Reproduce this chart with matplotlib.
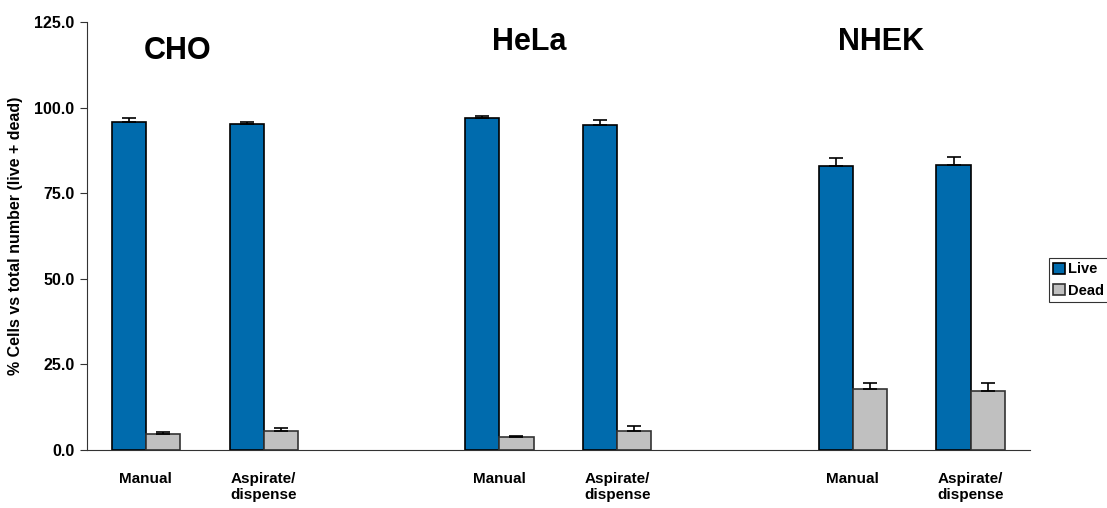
import matplotlib.pyplot as plt
import numpy as np

plt.rcParams['font.family'] = ['Liberation Sans', 'DejaVu Sans']
plt.rcParams['font.weight'] = 'bold'

cells = ["CHO", "HeLa", "NHEK"]
methods = ["Manual", "Aspirate/\ndispense"]
live = [95.8, 95.1, 96.9, 94.8, 82.9, 83.3]
live_err = [1.0, 0.7, 0.6, 1.5, 2.3, 2.3]
dead = [4.7, 5.5, 3.6, 5.5, 17.6, 17.2]
dead_err = [0.5, 0.8, 0.4, 1.5, 1.9, 2.2]

# 8 slots with empty gaps between the cell lines
pos = np.array([0, 1, 3, 4, 6, 7])
w = 0.29

fig = plt.figure(figsize=(11.07, 5.08), dpi=100)
ax = fig.add_axes([0.0786, 0.1148, 0.8514, 0.8419])

ekw = dict(elinewidth=1.2, capthick=1.2, ecolor='black')
ax.bar(pos - w, live, w, align='edge', color='#006BAD', edgecolor='black', linewidth=1.2,
       yerr=[np.zeros(6), live_err], capsize=5, error_kw=ekw, label='Live')
ax.bar(pos, dead, w, align='edge', color='#C0C0C0', edgecolor='#333333', linewidth=1.2,
       yerr=[np.zeros(6), dead_err], capsize=5, error_kw=ekw, label='Dead')

ax.set_xlim(-0.5, 7.5)
ax.set_ylim(0, 125)
ax.set_yticks(np.arange(0, 126, 25))
ax.set_yticklabels([f"{v:.1f}" for v in np.arange(0, 126, 25)], fontsize=11.5, fontweight='bold')
ax.set_xticks(pos)
ax.set_xticklabels(methods * 3, fontsize=11, fontweight='bold', multialignment='center')
ax.tick_params(axis='x', length=0, pad=16)
ax.tick_params(axis='y', length=5, color='#333333', pad=4)
for s in ['top', 'right']:
    ax.spines[s].set_visible(False)
for s in ['left', 'bottom']:
    ax.spines[s].set_color('#333333')

ax.set_ylabel("% Cells vs total number (live + dead)", fontsize=11.5, fontweight='bold', labelpad=8)

title_x = [0.27, 3.25, 6.24]
title_y = [116.5, 119.1, 119.1]
for name, tx, ty in zip(cells, title_x, title_y):
    ax.text(tx, ty, name, fontsize=22, fontweight='bold', ha='center', va='center')

leg = fig.legend(loc='upper left', bbox_to_anchor=(1049 / 1107, 1 - 258 / 508),
                 fontsize=10.5, frameon=True, fancybox=False, edgecolor='black',
                 handlelength=0.8, handleheight=0.8, handletextpad=0.2,
                 borderpad=0.3, labelspacing=0.5, borderaxespad=0)
leg.get_frame().set_linewidth(0.8)

fig.savefig("out.png", dpi=100)
